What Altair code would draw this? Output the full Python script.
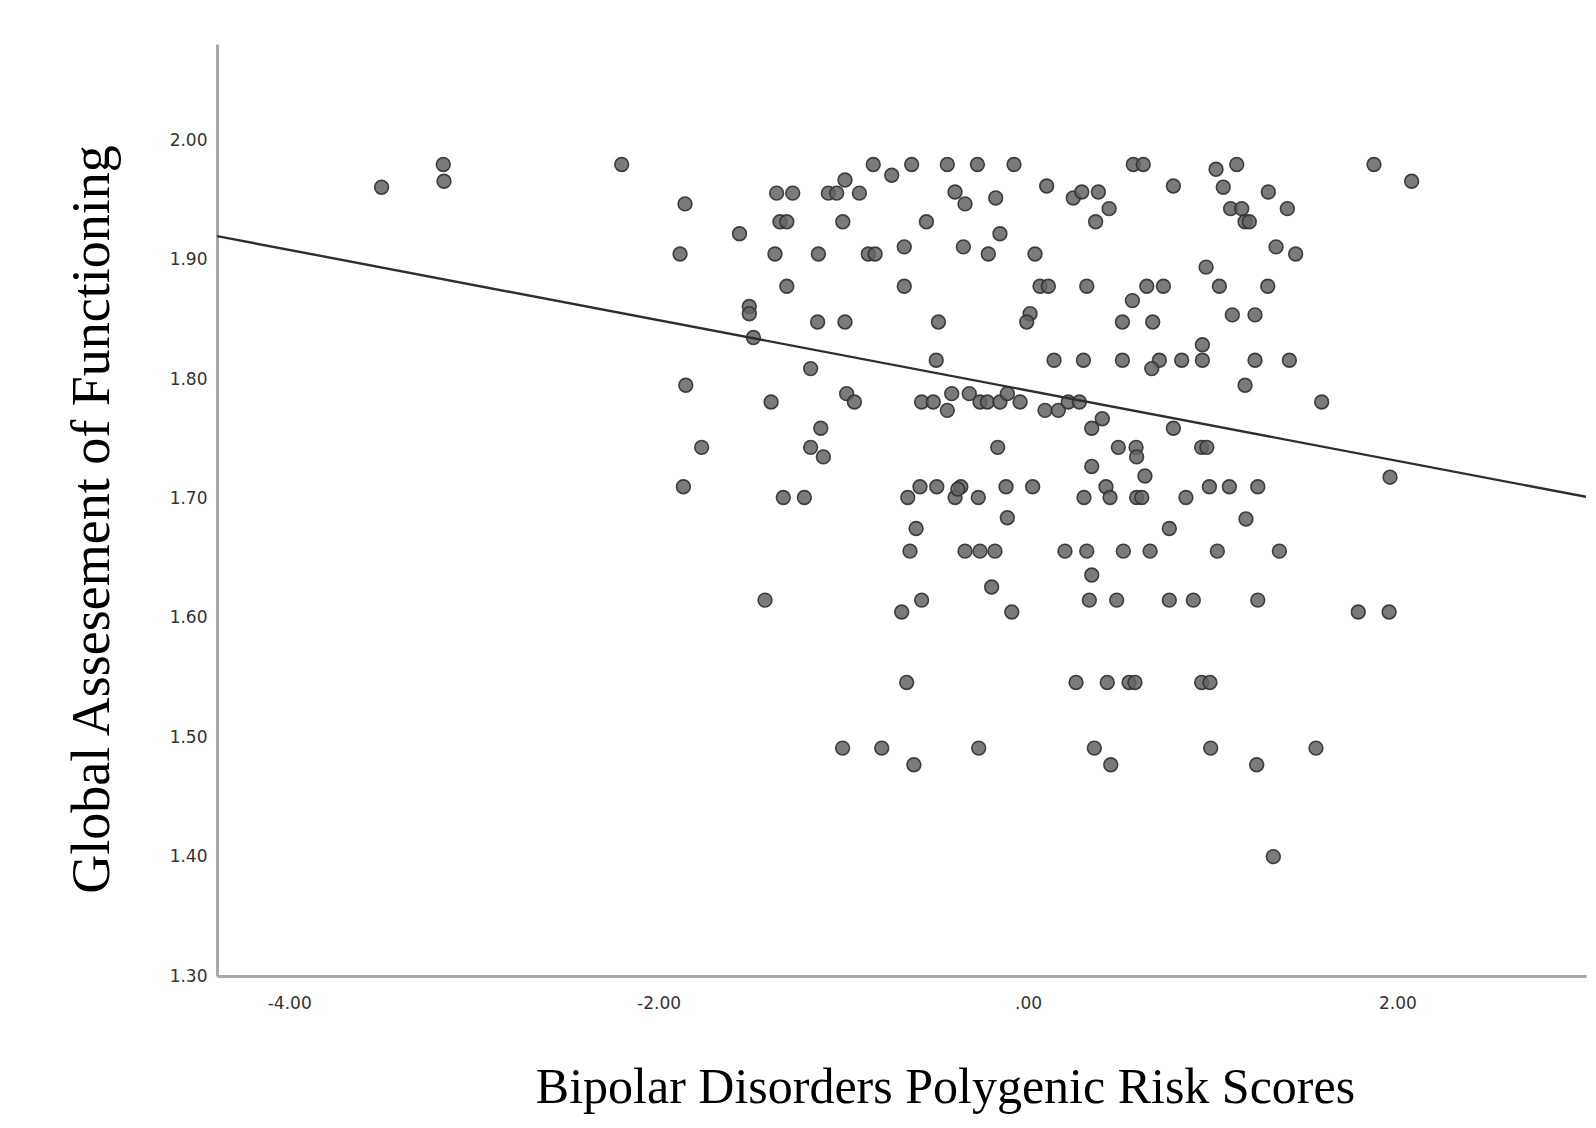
import altair as alt
import pandas as pd

# ---- data ----
prs = [
    -3.500, -3.166, -3.162, -2.200, -1.857, -1.884, -1.562, -1.853, -1.767,
    -0.838, -0.738, -0.630, -1.361, -1.274, -1.081, -1.036, -0.991, -0.913,
    -1.343, -1.306, -1.003, -0.550, -1.370, -1.135, -0.865, -0.828, -0.670,
    -1.306, -0.670, -1.509, -1.509, -1.487, -1.139, -0.991, -0.485, -0.497,
    -1.177, -1.391, -0.982, -0.940, -0.576, -0.513, -1.122,
    -0.437, -0.274, -0.076, 0.570, 0.624, 1.018, 1.057, -0.395, -0.341,
    -0.175, 0.101, 0.245, 0.291, 0.381, 0.439, 0.366, 0.787, -0.152,
    -0.350, -0.215, 0.038, 0.065, 0.110, 0.318, 0.964, 0.643, 0.733,
    1.036, 0.565, 0.011, -0.007, 0.511, 0.675, 0.141, 0.300, 0.511,
    0.711, 0.670, 0.832, 0.944, 0.944,
    -0.413, -0.318, -0.260, -0.220, -0.152, -0.112, -0.043, -0.437, 0.092,
    0.164, 0.218, 0.278, 0.402, 0.345, 0.787,
    1.130, 1.301, 1.097, 1.157, 1.175, 1.198, 1.404, 1.873, 2.077,
    1.343, 1.449, 1.298, 1.106, 1.229, 1.229, 1.415, 1.175, 1.590,
    -1.177, -1.108, -1.866, -1.325, -1.211, -0.651, -0.585, -0.494, -0.606,
    -0.639, -1.424, -0.576, -0.684, -0.657,
    -0.164, 0.489, 0.585, 0.588, 0.940, 0.968, 0.345, 0.633, -0.364,
    -0.395, -0.380, -0.269, -0.119, 0.025, 0.303, 0.422, 0.444, 0.588,
    0.616, 0.855, 0.982, 1.090, -0.112, 0.765,
    -0.341, -0.260, -0.179, 0.200, 0.318, 0.516, 0.661, 1.025,
    0.345, -0.197, -0.088, 0.332, 0.480, 0.765, 0.895,
    0.260, 0.429, 0.547, 0.579, 0.940, 0.985,
    1.244, 1.180, 1.361, 1.244, 1.788, 1.955, 1.960,
    -1.004, -0.792, -0.618, -0.267, 0.359, 0.448,
    0.989, 1.238, 1.559, 1.328,
]
gaf = [
    1.961, 1.980, 1.966, 1.980, 1.947, 1.905, 1.922, 1.795, 1.743,
    1.980, 1.971, 1.980, 1.956, 1.956, 1.956, 1.956, 1.967, 1.956,
    1.932, 1.932, 1.932, 1.932, 1.905, 1.905, 1.905, 1.905, 1.911,
    1.878, 1.878, 1.861, 1.855, 1.835, 1.848, 1.848, 1.848, 1.816,
    1.809, 1.781, 1.788, 1.781, 1.781, 1.781, 1.759,
    1.980, 1.980, 1.980, 1.980, 1.980, 1.976, 1.961, 1.957, 1.947,
    1.952, 1.962, 1.952, 1.957, 1.957, 1.943, 1.932, 1.962, 1.922,
    1.911, 1.905, 1.905, 1.878, 1.878, 1.878, 1.894, 1.878, 1.878,
    1.878, 1.866, 1.855, 1.848, 1.848, 1.848, 1.816, 1.816, 1.816,
    1.816, 1.809, 1.816, 1.829, 1.816,
    1.788, 1.788, 1.781, 1.781, 1.781, 1.788, 1.781, 1.774, 1.774,
    1.774, 1.781, 1.781, 1.767, 1.759, 1.759,
    1.980, 1.957, 1.943, 1.943, 1.932, 1.932, 1.943, 1.980, 1.966,
    1.911, 1.905, 1.878, 1.854, 1.854, 1.816, 1.816, 1.795, 1.781,
    1.743, 1.735, 1.710, 1.701, 1.701, 1.701, 1.710, 1.710, 1.675,
    1.656, 1.615, 1.615, 1.605, 1.546,
    1.743, 1.743, 1.743, 1.735, 1.743, 1.743, 1.727, 1.719, 1.710,
    1.701, 1.708, 1.701, 1.710, 1.710, 1.701, 1.710, 1.701, 1.701,
    1.701, 1.701, 1.710, 1.710, 1.684, 1.675,
    1.656, 1.656, 1.656, 1.656, 1.656, 1.656, 1.656, 1.656,
    1.636, 1.626, 1.605, 1.615, 1.615, 1.615, 1.615,
    1.546, 1.546, 1.546, 1.546, 1.546, 1.546,
    1.710, 1.683, 1.656, 1.615, 1.605, 1.605, 1.718,
    1.491, 1.491, 1.477, 1.491, 1.491, 1.477,
    1.491, 1.477, 1.491, 1.400,
]

# fitted line
fit_intercept = 1.7906
fit_slope = -0.02947

x_domain = [-4.391, 3.021]
y_domain = [1.30, 2.081]
x_tick_values = [-4, -2, 0, 2]
x_tick_labels = ["-4.00", "-2.00", ".00", "2.00"]
y_tick_values = [1.3, 1.4, 1.5, 1.6, 1.7, 1.8, 1.9, 2.0]
y_tick_labels = ["1.30", "1.40", "1.50", "1.60", "1.70", "1.80", "1.90", "2.00"]

x_title = "Bipolar Disorders Polygenic Risk Scores"
y_title = "Global Assesement of Functioning"

# ---- build ----
points = pd.DataFrame({"prs": prs, "gaf": gaf})
line_df = pd.DataFrame({
    "prs": x_domain,
    "gaf": [fit_intercept + fit_slope * v for v in x_domain],
})


def label_expr(values, labels):
    parts = []
    for v, l in zip(values, labels):
        parts.append(f"abs(datum.value - ({v})) < 1e-6 ? '{l}'")
    return " : ".join(parts) + " : ''"


x_axis = alt.Axis(
    values=x_tick_values,
    labelExpr=label_expr(x_tick_values, x_tick_labels),
    grid=False, ticks=False, tickSize=0,
    domainColor="#a8a8a8", domainWidth=3,
    labelFont="DejaVu Sans", labelFontSize=17, labelColor="#333333",
    labelPadding=19,
    title=x_title, titleFont="Liberation Serif", titleFontSize=50,
    titleFontWeight="normal", titleColor="#000000",
    titleX=728, titleY=126, titleAlign="center", titleBaseline="alphabetic",
)
y_axis = alt.Axis(
    values=y_tick_values,
    labelExpr=label_expr(y_tick_values, y_tick_labels),
    grid=False, ticks=False, tickSize=0,
    domainColor="#a8a8a8", domainWidth=3,
    labelFont="DejaVu Sans", labelFontSize=17, labelColor="#333333",
    labelPadding=10,
    title=y_title, titleFont="Liberation Serif", titleFontSize=54,
    titleFontWeight="normal", titleColor="#000000",
    titleAngle=270, titleX=-109, titleY=475, titleAlign="center",
    titleBaseline="alphabetic",
)

xs = alt.Scale(domain=x_domain, nice=False, zero=False)
ys = alt.Scale(domain=y_domain, nice=False, zero=False)

scatter = alt.Chart(points).mark_circle(
    size=190, color="#646464", fillOpacity=0.85,
    stroke="#303030", strokeWidth=1.6, strokeOpacity=0.9, clip=True,
).encode(
    x=alt.X("prs:Q", scale=xs, axis=x_axis),
    y=alt.Y("gaf:Q", scale=ys, axis=y_axis),
)

fit = alt.Chart(line_df).mark_line(color="#2e2e2e", strokeWidth=2.4, clip=True).encode(
    x=alt.X("prs:Q", scale=xs),
    y=alt.Y("gaf:Q", scale=ys),
)

chart = alt.layer(scatter, fit).properties(
    width=1369,
    height=932,
    padding={"left": 209, "top": 36, "right": 2, "bottom": 138},
    autosize=alt.AutoSizeParams(type="none"),
    background="white",
).configure_view(stroke=None)

chart.save("out.html", embed_options={"renderer": "svg", "actions": False})
